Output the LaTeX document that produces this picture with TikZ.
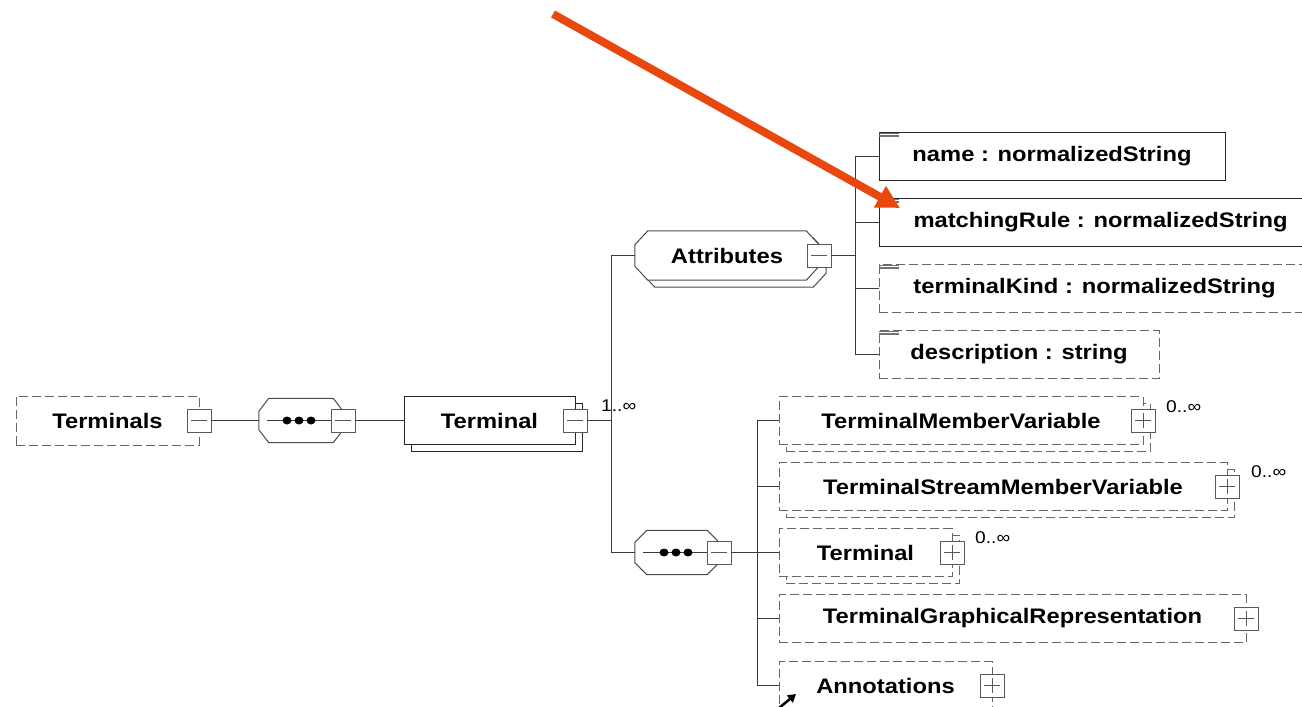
\documentclass[tikz,border=0pt]{standalone}
\usepackage{fontspec}
\newfontfamily\xsdfont{Liberation Sans}[FakeStretch=1.13]
\usetikzlibrary{arrows.meta,shadows,backgrounds}

\definecolor{xsdline}{HTML}{3A3A3A}
\definecolor{hilite}{RGB}{232,72,14}

% octagon outline round a group node: node, chamfer x, chamfer y
\newcommand\grouppath[3]{([xshift=#2]#1.north west) -- ([xshift=-#2]#1.north east)
  -- ([yshift=-#3]#1.north east) -- ([yshift=#3]#1.south east)
  -- ([xshift=-#2]#1.south east) -- ([xshift=#2]#1.south west)
  -- ([yshift=#3]#1.south west) -- ([yshift=-#3]#1.north west) -- cycle}

\tikzset{
  elem/.style={draw=black!85, fill=white, inner sep=0pt, minimum height=48pt,
    font=\xsdfont\bfseries\fontsize{21}{24}\selectfont},
  optelem/.style={elem, draw=black!60, dash pattern=on 9pt off 4pt},
  many/.style={copy shadow={shadow xshift=7pt, shadow yshift=-7pt}},
  group/.style={inner sep=0pt, minimum height=44pt,
    font=\xsdfont\bfseries\fontsize{21}{24}\selectfont},
  groupline/.style={draw=black!70, fill=white, line width=1pt},
  toggle/.style={draw=black!65, fill=white, inner sep=0pt,
    minimum width=24pt, minimum height=23pt},
  collapse/.style={toggle, path picture={
    \draw[black!65] ([xshift=4pt]path picture bounding box.west) -- ([xshift=-4pt]path picture bounding box.east);}},
  expand/.style={toggle, path picture={
    \draw[black!65] ([xshift=4pt]path picture bounding box.west) -- ([xshift=-4pt]path picture bounding box.east);
    \draw[black!65] ([yshift=4pt]path picture bounding box.south) -- ([yshift=-4pt]path picture bounding box.north);}},
  card/.style={anchor=base west, inner sep=0pt, font=\xsdfont\fontsize{17}{19}\selectfont},
  link/.style={draw=xsdline, line width=1pt}
}

\begin{document}
\begin{tikzpicture}[x=1pt,y=-1pt]
\useasboundingbox (0,0) rectangle (1302,707);
\clip (0,0) rectangle (1302,707);

% root element and its sequence
\node[optelem, minimum width=183pt, minimum height=49pt] (terminals) at (107.5,420.5) {Terminals};
\node[collapse] (terminalsTgl) at (terminals.east) {};
\node[group, minimum width=84pt] (seqTop) at (301,420.5) {};
\begin{pgfonlayer}{background}
  \draw[groupline] \grouppath{seqTop}{10pt}{13pt};
\end{pgfonlayer}
\draw[link] ([xshift=8pt]seqTop.west) -- (seqTop.center);
\node[collapse] (seqTopTgl) at (seqTop.east) {};
\draw[link] (seqTop.center) -- (seqTopTgl);
\foreach \dx in {-14,-2,10}
  \fill ([xshift=\dx pt]seqTop.center) ellipse (4.5pt and 4pt);

\node[elem, many, minimum width=171pt] (terminal) at (489.5,420.5) {Terminal};
\node[collapse] (terminalTgl) at (terminal.east) {};
\node[card] (terminalCard) at (601,411) {1..∞};

% attribute group
\node[group, minimum width=184pt, minimum height=49pt] (attrGroup) at (727,255.5) {Attributes};
\begin{pgfonlayer}{background}
  \draw[groupline, transform canvas={shift={(7pt,-7pt)}}] \grouppath{attrGroup}{13pt}{14pt};
  \draw[groupline] \grouppath{attrGroup}{13pt}{14pt};
\end{pgfonlayer}
\node[collapse] (attrTgl) at (attrGroup.east) {};

\node[elem, minimum width=346pt] (nameAttr) at (1052,156.5) {name : normalizedString};
\node[elem, minimum width=443pt] (ruleAttr) at (1100.5,222.5) {matchingRule : normalizedString};
\node[optelem, minimum width=431pt] (kindAttr) at (1094.5,288.5) {terminalKind : normalizedString};
\node[optelem, minimum width=280pt] (descAttr) at (1019,354.5) {description : string};
\foreach \a in {nameAttr,ruleAttr,kindAttr,descAttr}
  \foreach \d in {1.5,3,4.5}
    \draw[black!55, line width=0.8pt] ([yshift=-\d pt]\a.north west) -- ++(20pt,0);

% child sequence
\node[group, minimum width=84pt] (seqSub) at (677,552.5) {};
\begin{pgfonlayer}{background}
  \draw[groupline] \grouppath{seqSub}{12pt}{12pt};
\end{pgfonlayer}
\draw[link] ([xshift=8pt]seqSub.west) -- (seqSub.center);
\node[collapse] (seqSubTgl) at (seqSub.east) {};
\draw[link] (seqSub.center) -- (seqSubTgl);
\foreach \dx in {-13,-1,11}
  \fill ([xshift=\dx pt]seqSub.center) ellipse (4.5pt and 4pt);

\node[optelem, many, minimum width=364pt] (tmv) at (961,420.5) {TerminalMemberVariable};
\node[expand] (tmvTgl) at (tmv.east) {};
\node[card] (tmvCard) at (1166,412) {0..∞};

\node[optelem, many, minimum width=448pt] (tsmv) at (1003,486.5) {TerminalStreamMemberVariable};
\node[expand] (tsmvTgl) at (tsmv.east) {};
\node[card] (tsmvCard) at (1251,477) {0..∞};

\node[optelem, many, minimum width=173pt] (termSub) at (865.5,552.5) {Terminal};
\node[expand] (termSubTgl) at (termSub.east) {};
\node[card] (termSubCard) at (975,543) {0..∞};

\node[optelem, minimum width=467pt] (tgr) at (1012.5,618.5) {TerminalGraphicalRepresentation};
\node[expand] (tgrTgl) at (tgr.east) {};

\node[optelem, minimum width=213pt] (annot) at (885.5,685.5) {Annotations};
\node[expand] (annotTgl) at (annot.east) {};

% connectors
\draw[link] (terminalsTgl) -- (seqTop);
\draw[link] (seqTopTgl) -- (terminal);
\coordinate (fork) at (611.5,420.5);
\draw[link] (terminalTgl) -- (fork);
\draw[link] (attrGroup.west) -| (fork) |- (seqSub.west);

\coordinate (attrFork) at (855.5,255.5);
\draw[link] (attrTgl) -- (attrFork);
\draw[link] (nameAttr.west) -| (attrFork) |- (descAttr.west);
\draw[link] (attrFork |- ruleAttr.west) -- (ruleAttr.west);
\draw[link] (attrFork |- kindAttr.west) -- (kindAttr.west);

\coordinate (childFork) at (757.5,552.5);
\draw[link] (seqSubTgl) -- (childFork);
\draw[link] (tmv.west) -| (childFork) |- (annot.west);
\foreach \n in {tsmv,termSub,tgr}
  \draw[link] (childFork |- \n.west) -- (\n.west);

% reference marker on Annotations
\coordinate (refTail) at (779,708);
\coordinate (refTip) at (796,694);
\draw[line width=2.5pt, -{Triangle[length=8pt,width=9pt]}] (refTail) -- (refTip);

% highlight arrow
\coordinate (pointerTail) at (553,14);
\coordinate (pointerTip) at (900,208);
\draw[hilite, line width=8pt, -{Triangle[length=23pt,width=23pt]}] (pointerTail) -- (pointerTip);
\end{tikzpicture}
\end{document}
